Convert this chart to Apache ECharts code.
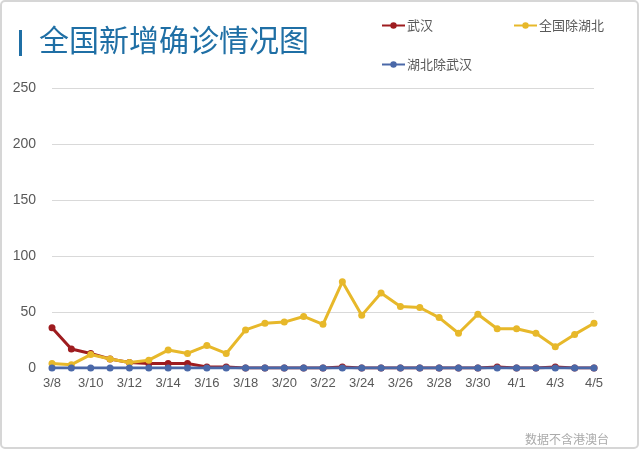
<!DOCTYPE html>
<html><head><meta charset="utf-8">
<script src="https://cdn.jsdelivr.net/npm/echarts@6/dist/echarts.min.js"></script>
<style>html,body{margin:0;padding:0;background:#fff}#c{width:640px;height:450px}</style>
</head><body><div id="c"></div>
<script>
const dates = ['3/8','3/9','3/10','3/11','3/12','3/13','3/14','3/15','3/16','3/17','3/18','3/19','3/20','3/21','3/22','3/23','3/24','3/25','3/26','3/27','3/28','3/29','3/30','3/31','4/1','4/2','4/3','4/4','4/5'];
const wuhan = [36,17,13,8,5,4,4,4,1,1,0,0,0,0,0,1,0,0,0,0,0,0,0,1,0,0,1,0,0];
const exHubei = [4,3,12,8,5,7,16,13,20,13,34,40,41,46,39,77,47,67,55,54,45,31,48,35,35,31,19,30,40];
const hubeiExWuhan = [0,0,0,0,0,0,0,0,0,0,0,0,0,0,0,0,0,0,0,0,0,0,0,0,0,0,0,0,0];
const yTicks = [0,50,100,150,200,250];
const names = ['武汉','全国除湖北','湖北除武汉'];
const colors = ['#9e1c1f','#e7b82a','#4a68a8'];
const seriesData = [wuhan, exHubei, hubeiExWuhan];
const font = '"Noto Sans CJK SC","Noto Sans",sans-serif';

const chart = echarts.init(document.getElementById('c'), null, {renderer:'canvas'});
const legendPos = [{left:376,top:14},{left:508,top:14},{left:376,top:53}];
chart.setOption({
  backgroundColor:'#fff',
  animation:false,
  textStyle:{fontFamily:font},
  title:[{text:'全国新增确诊情况图', left:34, top:20, textStyle:{fontSize:30, fontWeight:'normal', color:'#1f6fa5', fontFamily:font}},
         {text:'数据不含港澳台', right:26, top:428, textStyle:{fontSize:12, fontWeight:'normal', color:'#aaaaaa', fontFamily:font}}],
  legend: names.map((n,i)=>({data:[n], left:legendPos[i].left, top:legendPos[i].top, itemWidth:23, itemHeight:8, itemGap:2,
     textStyle:{fontSize:13, color:'#595959', fontFamily:font, padding:[0,0,0,-3]}})),
  grid:{left:52, right:46, top:88, bottom:82},
  xAxis:{type:'category', data:dates, boundaryGap:false,
    axisLine:{lineStyle:{color:'#bfbfbf'}}, axisTick:{show:false},
    axisLabel:{interval:1, color:'#595959', fontSize:13, margin:9, fontFamily:'"Liberation Sans",sans-serif'},
    splitLine:{show:false}},
  yAxis:{type:'value', min:0, max:250, interval:50,
    axisLine:{show:false}, axisTick:{show:false},
    axisLabel:{color:'#595959', fontSize:14, margin:16, fontFamily:'"Liberation Sans",sans-serif'},
    splitLine:{lineStyle:{color:'#d9d9d9', width:1}}},
  series: names.map((n,i)=>({name:n, type:'line', data:seriesData[i], symbol:'circle', symbolSize:7,
     lineStyle:{color:colors[i], width:3}, itemStyle:{color:colors[i]}, z:2+i})),
  graphic:[{type:'rect', shape:{x:1,y:1,width:637,height:447,r:4}, style:{fill:'none', stroke:'#d6d6d6', lineWidth:2}, silent:true},
           {type:'rect', shape:{x:19,y:30,width:3,height:26}, style:{fill:'#1f6fa5'}, silent:true}]
});
</script></body></html>
